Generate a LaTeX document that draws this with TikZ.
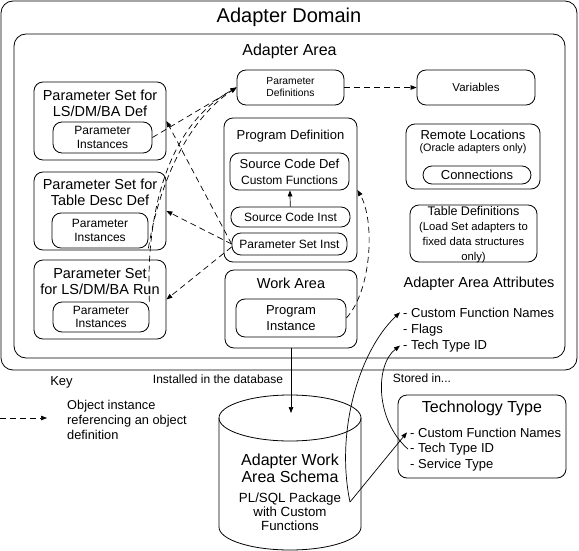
\documentclass[tikz,border=0pt]{standalone}
\usepackage{fontspec}
\setmainfont{Liberation Sans}
\usetikzlibrary{positioning}
\usetikzlibrary{arrows.meta}

\begin{document}
\begin{tikzpicture}[x=1pt, y=-1pt,
    box/.style={draw, rounded corners=9pt, line width=0.8pt, inner sep=0pt, align=center},
    lbl/.style={inner sep=0pt, align=center},
    ref/.style={-{Triangle[length=6pt,width=4.5pt]}, dash pattern=on 6pt off 4pt, line width=0.7pt},
    link/.style={-{Triangle[length=6pt,width=4.5pt]}, line width=0.7pt},
    ftitle/.style={font=\fontsize{20}{24}\selectfont},
    fhead/.style={font=\fontsize{16}{17}\selectfont},
    fset/.style={font=\fontsize{14.5}{16}\selectfont},
    fmd/.style={font=\fontsize{13}{16}\selectfont},
    fsm/.style={font=\fontsize{12}{13.5}\selectfont},
    fnote/.style={font=\fontsize{11.3}{15}\selectfont},
    fxs/.style={font=\fontsize{10.3}{12}\selectfont}]
    \useasboundingbox (0,0) rectangle (579,551);

    % domain and area
    \node[box, rounded corners=12pt, minimum width=576pt, minimum height=369pt] (domain) at (289,185.5) {};
    \node[lbl, ftitle] (tdomain) at (289,17) {Adapter Domain};
    \node[box, rounded corners=12pt, minimum width=551pt, minimum height=324pt] (area) at (289.5,196) {};
    \node[lbl, fhead] (tarea) at (289.5,51) {Adapter Area};

    % parameter sets
    \node[box, minimum width=132pt, minimum height=78pt] (psdef) at (100,121) {};
    \node[lbl, fset] (tpsdef) at (100,103) {Parameter Set for\\LS/DM/BA Def};
    \node[box, fsm, minimum width=99pt, minimum height=31pt] (psdefi) at (102.5,137.5) {Parameter\\Instances};

    \node[box, minimum width=132pt, minimum height=78pt] (pstab) at (100,211) {};
    \node[lbl, fset] (tpstab) at (100,192.5) {Parameter Set for\\Table Desc Def};
    \node[box, fsm, minimum width=96pt, minimum height=35pt] (pstabi) at (100,230.5) {Parameter\\Instances};

    \node[box, minimum width=132pt, minimum height=79pt] (psrun) at (100,299.5) {};
    \node[lbl, fset] (tpsrun) at (100,282) {Parameter Set\\for LS/DM/BA Run};
    \node[box, fsm, minimum width=96pt, minimum height=30pt] (psruni) at (101,317) {Parameter\\Instances};

    % definitions
    \node[box, fxs, minimum width=107pt, minimum height=35pt] (pdefs) at (290.5,87.5) {Parameter\\Definitions};
    \node[box, font=\fontsize{11.5}{13}\selectfont, minimum width=118pt, minimum height=35pt] (vars) at (476,87.5) {Variables};

    % program definition
    \node[box, minimum width=133pt, minimum height=144pt] (progdef) at (290.5,190) {};
    \node[lbl, fmd] (tprogdef) at (290.5,136) {Program Definition};
    \node[box, font=\fontsize{13}{16}\selectfont, minimum width=119pt, minimum height=37pt] (scdef) at (289.5,171.5) {Source Code Def\\{\fontsize{12}{16}\selectfont Custom Functions}};
    \node[box, fsm, minimum width=119pt, minimum height=20pt] (scinst) at (290.5,217) {Source Code Inst};
    \node[box, fsm, minimum width=115pt, minimum height=22pt] (psinst) at (289.5,244) {Parameter Set Inst};

    % work area
    \node[box, minimum width=132pt, minimum height=78pt] (work) at (291,309) {};
    \node[lbl, fset] (twork) at (291,283) {Work Area};
    \node[box, fmd, minimum width=110pt, minimum height=38pt] (proginst) at (291,318) {Program\\Instance};

    % remote locations and table definitions
    \node[box, minimum width=134pt, minimum height=65pt] (remote) at (473,156.5) {};
    \node[lbl, fmd] (tremote) at (473,135) {Remote Locations};
    \node[lbl, font=\fontsize{10.8}{13}\selectfont] (tremote2) at (473,149) {(Oracle adapters only)};
    \node[box, fmd, minimum width=108pt, minimum height=18pt] (conn) at (477,175) {Connections};

    \node[box, minimum width=127pt, minimum height=57pt] (tabledef) at (473.5,233.5) {};
    \node[lbl, fnote] (ttabledef) at (473.5,235) {{\fontsize{12.5}{15}\selectfont Table Definitions}\\(Load Set adapters to\\fixed data structures\\only)};

    % attributes
    \node[lbl, fset] (tattr) at (479,284) {Adapter Area Attributes};
    \node[lbl, fmd, anchor=base west] (a1) at (403,317) {- Custom Function Names};
    \node[lbl, fmd, anchor=base west] (a2) at (403,333) {- Flags};
    \node[lbl, fmd, anchor=base west] (a3) at (403,349) {- Tech Type ID};

    % key
    \node[lbl, fmd] (key) at (61.5,382) {Key};
    \coordinate (k0) at (0,418);
    \coordinate (k1) at (47,418);
    \node[lbl, font=\fontsize{12.8}{15}\selectfont, anchor=west, align=left] (keytxt) at (67,420) {Object instance\\referencing an object\\definition};
    \node[lbl, fsm] (installed) at (218,379) {Installed in the database};
    \node[lbl, fsm] (stored) at (422,378) {Stored in...};

    % schema cylinder
    \draw[line width=0.8pt] (219,418) -- (219,527) arc[start angle=180, end angle=360, x radius=71pt, y radius=23pt] -- (361,418);
    \draw[line width=0.8pt] (290,418) ellipse [x radius=71pt, y radius=23pt];
    \node[lbl, font=\fontsize{16}{17}\selectfont] (schema) at (290,468) {Adapter Work\\Area Schema};
    \node[lbl, font=\fontsize{13.3}{14}\selectfont] (pkg) at (290,512) {PL/SQL Package\\with Custom\\Functions};
    \coordinate (cyltop) at (291,413);
    \coordinate (vpt) at (350,502);

    % technology type
    \node[box, minimum width=168pt, minimum height=83pt] (tech) at (482,436.5) {};
    \node[lbl, fhead] (ttech) at (482,408) {Technology Type};
    \node[lbl, fmd, anchor=base west] (t1) at (410,437) {- Custom Function Names};
    \node[lbl, fmd, anchor=base west] (t2) at (410,452.5) {- Tech Type ID};
    \node[lbl, fmd, anchor=base west] (t3) at (410,468) {- Service Type};

    % references
    \draw[ref] (pdefs) -- (vars);
    \draw[ref] (psdefi.east) -- (pdefs.west);
    \draw[ref] (pstabi.south east) .. controls (156,200) and (180,125) .. (pdefs.west);
    \draw[ref] (psruni.north east) .. controls (146,230) and (160,130) .. (pdefs.west);
    \draw[ref] (psinst.west) -- (psdef.east);
    \draw[ref] (psinst.west) -- (pstab.east);
    \draw[ref] ([yshift=-3pt]psinst.west) -- (psrun.east);
    \draw[ref] (proginst.east) .. controls (372,290) and (375,220) .. (progdef.east);
    \draw[ref] (k0) -- (k1);

    % solid links
    \draw[link] (scinst) -- (scdef);
    \draw[link] (work.south) -- (cyltop);
    \draw[link] (vpt) .. controls (335,430) and (360,350) .. ([xshift=-3pt]a1.west);
    \draw[link] (vpt) -- ([xshift=-3pt]t1.west);
    \draw[link] ([xshift=-2pt]t2.west) .. controls (375,420) and (375,365) .. ([xshift=-3pt]a3.west);
\end{tikzpicture}
\end{document}
